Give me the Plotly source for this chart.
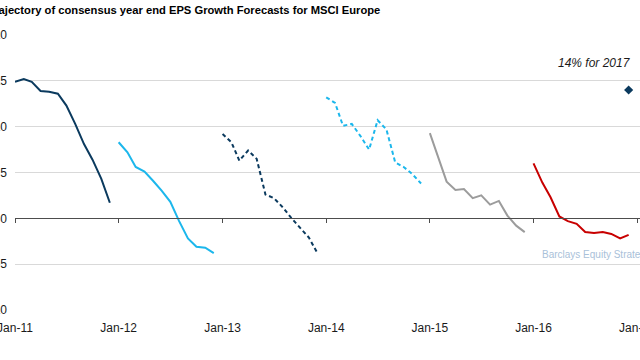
import pandas as pd
import plotly.graph_objects as go

# ---- data ----
fc2011 = [14.9, 15.2, 14.9, 13.9, 13.8, 13.6, 12.3, 10.3, 8.1, 6.4, 4.3, 1.7]
fc2012 = [8.3, 7.2, 5.6, 5.1, 4.1, 3.0, 1.8, -0.3, -2.2, -3.1, -3.2, -3.8]
fc2013 = [9.2, 8.3, 6.3, 7.4, 6.5, 2.6, 2.2, 1.2, 0.0, -1.0, -2.1, -3.8]
fc2014 = [13.2, 12.6, 10.1, 10.3, 9.0, 7.5, 10.7, 9.7, 6.1, 5.6, 4.8, 3.8]
fc2015 = [9.3, 6.6, 4.0, 3.1, 3.2, 2.2, 2.5, 1.5, 1.9, 0.3, -0.8, -1.5]
fc2016 = [6.0, 3.9, 2.3, 0.2, -0.3, -0.6, -1.5, -1.6, -1.5, -1.7, -2.2, -1.8]
fc2017_date = ["2016-12-01"]
fc2017 = [14.0]

x_tickvals = ["2011-01-01", "2012-01-01", "2013-01-01", "2014-01-01",
              "2015-01-01", "2016-01-01", "2017-01-01"]
x_ticktext = ["Jan-11", "Jan-12", "Jan-13", "Jan-14", "Jan-15", "Jan-16", "Jan-17"]
y_tickvals = [-10, -5, 0, 5, 10, 15, 20]

NAVY = "#0b3a5e"
CYAN = "#1cb7ec"
GREY = "#9c9c9c"
RED = "#c80000"

series = [
    (2011, fc2011, NAVY, "solid"),
    (2012, fc2012, CYAN, "solid"),
    (2013, fc2013, NAVY, "4px,3px"),
    (2014, fc2014, CYAN, "4px,3px"),
    (2015, fc2015, GREY, "solid"),
    (2016, fc2016, RED, "solid"),
]

fig = go.Figure()
for year, vals, color, dash in series:
    dates = pd.date_range(f"{year}-01-01", periods=len(vals), freq="MS")
    fig.add_trace(go.Scatter(
        x=dates, y=vals, mode="lines", name=str(year),
        line=dict(color=color, width=2, dash=dash),
    ))

fig.add_trace(go.Scatter(
    x=fc2017_date, y=fc2017, mode="markers", name="2017",
    marker=dict(symbol="diamond", size=7, color=NAVY),
))

FONT = "Liberation Sans, Arial, sans-serif"

fig.update_layout(
    width=640, height=360,
    margin=dict(l=15, r=0, t=35, b=50),
    paper_bgcolor="white", plot_bgcolor="white",
    showlegend=False,
    font=dict(family=FONT, size=12, color="#1a1a1a"),
    xaxis=dict(
        type="date",
        range=["2011-01-01", "2017-01-10"],
        tickvals=x_tickvals, ticktext=x_ticktext,
        showgrid=False, zeroline=False,
        showline=True, linecolor="#4d4d4d", linewidth=1.3,
        ticks="outside", ticklen=4, tickcolor="#4d4d4d", tickwidth=1,
        anchor="free", position=1/3,
        ticklabelstandoff=94,
        ticklabeloverflow="allow",
        tickfont=dict(family=FONT, size=12, color="#1a1a1a"),
        automargin=False,
    ),
    yaxis=dict(
        range=[-10, 20],
        tickvals=y_tickvals,
        showgrid=True, gridcolor="#d9d9d9", gridwidth=1,
        zeroline=False, showline=False, ticks="",
        ticklabelstandoff=7,
        ticklabeloverflow="allow",
        tickfont=dict(family=FONT, size=12, color="#1a1a1a"),
        automargin=False,
    ),
    annotations=[
        dict(text="<b>Trajectory of consensus year end EPS Growth Forecasts for MSCI Europe</b>",
             xref="paper", yref="paper", x=(-14 - 15) / 625, y=(310 - 10) / 275,
             xanchor="left", yanchor="middle", showarrow=False,
             font=dict(family=FONT, size=11.2, color="#000000")),
        dict(text="<i>14% for 2017</i>",
             xref="paper", yref="paper", x=(633 - 15) / 625, y=(310 - 63) / 275,
             xanchor="right", yanchor="middle", showarrow=False,
             font=dict(family=FONT, size=12, color="#1a1a1a")),
        dict(text="Barclays Equity Strategy",
             xref="paper", yref="paper", x=(540 - 15) / 625, y=(310 - 254) / 275,
             xanchor="left", yanchor="middle", showarrow=False,
             font=dict(family=FONT, size=10, color="#a9c1d9")),
    ],
)

fig.write_html(
    "out.html",
    config={"displayModeBar": False},
    post_script="document.body.style.margin='0';"
                "document.querySelectorAll('svg.main-svg').forEach(function(s){s.style.overflow='visible';});",
)
